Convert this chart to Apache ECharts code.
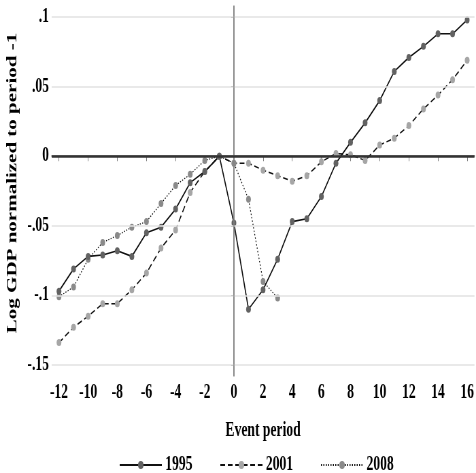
<!DOCTYPE html>
<html>
<head>
<meta charset="utf-8">
<script src="https://cdn.jsdelivr.net/npm/echarts@6/dist/echarts.min.js"></script>
<style>
  html, body { margin: 0; padding: 0; background: #fff; overflow: hidden; }
  /* the original figure is squeezed horizontally, so draw wide and squeeze it back */
  #chart { width: 700px; height: 473px; transform: scaleX(0.68); transform-origin: 0 0; }
</style>
</head>
<body>
<div id="chart"></div>
<script>
// event periods
var periods = [-12, -11, -10, -9, -8, -7, -6, -5, -4, -3, -2, -1, 0, 1, 2, 3, 4, 5, 6, 7, 8, 9, 10, 11, 12, 13, 14, 15, 16];

// log GDP normalized to period -1
var gdp1995 = [-0.097, -0.081, -0.072, -0.071, -0.068, -0.072, -0.055, -0.051, -0.038, -0.019, -0.011, 0,
  -0.048, -0.110, -0.096, -0.074, -0.047, -0.045, -0.029, -0.005, 0.010, 0.024, 0.040, 0.061, 0.071, 0.079, 0.088, 0.088, 0.098];
var gdp2001 = [-0.134, -0.123, -0.115, -0.106, -0.106, -0.096, -0.084, -0.066, -0.053, -0.026, -0.011, 0,
  -0.005, -0.005, -0.010, -0.014, -0.018, -0.014, -0.004, 0.002, 0.001, -0.003, 0.008, 0.013, 0.022, 0.034, 0.044, 0.055, 0.069];
var gdp2008 = [-0.101, -0.094, -0.074, -0.062, -0.057, -0.051, -0.047, -0.034, -0.021, -0.013, -0.003, 0,
  -0.005, -0.031, -0.090, -0.102];

var xTicks = [-12, -10, -8, -6, -4, -2, 0, 2, 4, 6, 8, 10, 12, 14, 16];
var yTicks = [-0.15, -0.1, -0.05, 0, 0.05, 0.1];

var font = 'Liberation Serif';

function pairs(ys) {
  return ys.map(function (y, i) { return [periods[i], y]; });
}

function yLabel(v) {
  return String(v).replace(/^(-?)0\./, '$1.');
}

var grids = yTicks.filter(function (v) { return v !== 0; }).map(function (v) {
  return { yAxis: v, lineStyle: { color: '#e2e2e2', width: 1.5, type: 'solid' } };
});
grids.push({ xAxis: 0, lineStyle: { color: '#858585', width: 1.5, type: 'solid' } });
grids.push({ yAxis: 0, lineStyle: { color: '#333', width: 2.5, type: 'solid' } });

function lineSeries(name, ys, dotColor, type, width) {
  return {
    name: name,
    type: 'line',
    data: pairs(ys),
    symbol: 'circle',
    symbolSize: 7,
    z: 3,
    itemStyle: { color: dotColor },
    lineStyle: { color: '#111', width: width, type: type },
    emphasis: { disabled: true }
  };
}

var chart = echarts.init(document.getElementById('chart'));
chart.setOption({
  animation: false,
  backgroundColor: '#fff',
  grid: { left: 76, right: 2, top: 6, bottom: 97 },
  legend: {
    data: ['1995', '2001', '2008'],
    left: 170,
    top: 450,
    itemWidth: 62,
    itemHeight: 10,
    itemGap: 40,
    textStyle: { fontFamily: font, fontWeight: 'bold', fontSize: 20, color: '#000' }
  },
  xAxis: {
    type: 'value',
    min: -12.5,
    max: 16.5,
    name: 'Event period',
    nameLocation: 'middle',
    nameGap: 45,
    nameTextStyle: { fontFamily: font, fontWeight: 'bold', fontSize: 20, color: '#000' },
    axisLine: { lineStyle: { color: '#808080', width: 1.5 } },
    axisTick: { customValues: xTicks, length: 5, lineStyle: { color: '#808080' } },
    axisLabel: { customValues: xTicks, margin: 7, fontFamily: font, fontWeight: 'bold', fontSize: 20, color: '#000' },
    splitLine: { show: false }
  },
  yAxis: {
    type: 'value',
    min: -0.158,
    max: 0.108,
    name: 'Log GDP normalized to period -1',
    nameLocation: 'middle',
    nameGap: 36,
    nameTextStyle: { fontFamily: font, fontWeight: 'bold', fontSize: 21, color: '#000', padding: [0, 0, 0, 16] },
    axisLine: { show: true, lineStyle: { color: '#808080', width: 1.5 } },
    axisTick: { show: true, customValues: yTicks, length: 4, lineStyle: { color: '#808080' } },
    axisLabel: { customValues: yTicks, margin: 4, formatter: yLabel, fontFamily: font, fontWeight: 'bold', fontSize: 20, color: '#000' },
    splitLine: { show: false }
  },
  series: [
    {
      name: 'ref',
      type: 'line',
      data: [],
      z: 1,
      markLine: { silent: true, symbol: 'none', label: { show: false }, data: grids }
    },
    lineSeries('2001', gdp2001, '#a6a6a6', [7, 4], 1.5),
    lineSeries('2008', gdp2008, '#8a8a8a', [1.5, 2], 1.2),
    lineSeries('1995', gdp1995, '#626262', 'solid', 1.6)
  ]
});
</script>
</body>
</html>
